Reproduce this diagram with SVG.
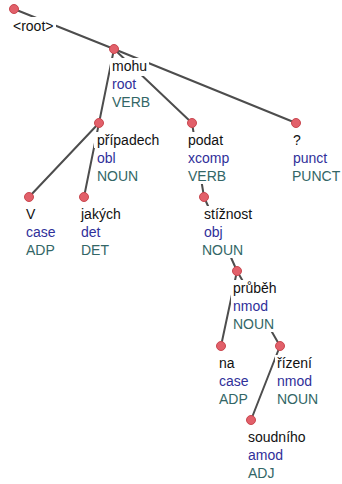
<svg xmlns="http://www.w3.org/2000/svg" width="342" height="484" viewBox="0 0 342 484">
<style>
text{font-family:"Liberation Sans",Arial,sans-serif;font-size:14px}
.f{fill:#111}
.d{fill:#30309a}
.u{fill:#336666}
.bg{fill:#fff}
.n{fill:#e2606a;stroke:#c9474f;stroke-width:1}
.e{stroke:#4d4d4d;stroke-width:2;fill:none;stroke-linecap:round}
</style>
<rect width="342" height="484" fill="#fff"/>
<g id="edges">
<line class="e" x1="14" y1="9" x2="114" y2="49"/>
<line class="e" x1="114" y1="49" x2="99" y2="123"/>
<line class="e" x1="114" y1="49" x2="192" y2="123"/>
<line class="e" x1="114" y1="49" x2="296" y2="123"/>
<line class="e" x1="99" y1="123" x2="29" y2="197"/>
<line class="e" x1="99" y1="123" x2="84" y2="197"/>
<line class="e" x1="192" y1="123" x2="204" y2="197"/>
<line class="e" x1="204" y1="197" x2="237" y2="271"/>
<line class="e" x1="237" y1="271" x2="221" y2="346"/>
<line class="e" x1="237" y1="271" x2="280" y2="346"/>
<line class="e" x1="280" y1="346" x2="251" y2="420"/>
</g>
<g id="n-root">
<rect class="bg" x="11" y="17" width="45" height="17"/>
<text class="f" x="13" y="31">&lt;root&gt;</text>
<circle class="n" cx="14" cy="9" r="4.5"/>
</g>
<g id="n-mohu">
<rect class="bg" x="110" y="58" width="39" height="18"/>
<rect class="bg" x="110" y="76" width="28" height="18"/>
<rect class="bg" x="110" y="94" width="42" height="16"/>
<text class="f" x="112" y="71">mohu</text>
<text class="d" x="112" y="89">root</text>
<text class="u" x="112" y="107">VERB</text>
<circle class="n" cx="114" cy="49" r="4.5"/>
</g>
<g id="n-pripadech">
<rect class="bg" x="94" y="132" width="69" height="16"/>
<rect class="bg" x="95" y="150" width="23" height="18"/>
<rect class="bg" x="95" y="168" width="45" height="16"/>
<text class="f" x="97" y="145">případech</text>
<text class="d" x="97" y="163">obl</text>
<text class="u" x="97" y="181">NOUN</text>
<circle class="n" cx="99" cy="123" r="4.5"/>
</g>
<g id="n-podat">
<rect class="bg" x="186" y="132" width="39" height="18"/>
<rect class="bg" x="186" y="150" width="45" height="18"/>
<rect class="bg" x="186" y="168" width="42" height="16"/>
<text class="f" x="188" y="145">podat</text>
<text class="d" x="188" y="163">xcomp</text>
<text class="u" x="188" y="181">VERB</text>
<circle class="n" cx="192" cy="123" r="4.5"/>
</g>
<g id="n-punct">
<rect class="bg" x="291" y="132" width="12" height="18"/>
<rect class="bg" x="291" y="150" width="38" height="18"/>
<rect class="bg" x="290" y="168" width="51" height="16"/>
<text class="f" x="293" y="145">?</text>
<text class="d" x="293" y="163">punct</text>
<text class="u" x="292" y="181">PUNCT</text>
<circle class="n" cx="296" cy="123" r="4.5"/>
</g>
<g id="n-v">
<rect class="bg" x="24" y="206" width="13" height="18"/>
<rect class="bg" x="24" y="224" width="34" height="18"/>
<rect class="bg" x="24" y="242" width="33" height="16"/>
<text class="f" x="26" y="219">V</text>
<text class="d" x="26" y="237">case</text>
<text class="u" x="26" y="255">ADP</text>
<circle class="n" cx="29" cy="197" r="4.5"/>
</g>
<g id="n-jakych">
<rect class="bg" x="79" y="206" width="44" height="18"/>
<rect class="bg" x="79" y="224" width="24" height="18"/>
<rect class="bg" x="79" y="242" width="32" height="16"/>
<text class="f" x="81" y="219">jakých</text>
<text class="d" x="81" y="237">det</text>
<text class="u" x="81" y="255">DET</text>
<circle class="n" cx="84" cy="197" r="4.5"/>
</g>
<g id="n-stiznost">
<rect class="bg" x="202" y="206" width="52" height="18"/>
<rect class="bg" x="202" y="224" width="24" height="18"/>
<rect class="bg" x="200" y="242" width="45" height="16"/>
<text class="f" x="204" y="219">stížnost</text>
<text class="d" x="204" y="237">obj</text>
<text class="u" x="202" y="255">NOUN</text>
<circle class="n" cx="204" cy="197" r="4.5"/>
</g>
<g id="n-prubeh">
<rect class="bg" x="231" y="280" width="48" height="18"/>
<rect class="bg" x="231" y="298" width="39" height="18"/>
<rect class="bg" x="231" y="316" width="45" height="16"/>
<text class="f" x="233" y="293">průběh</text>
<text class="d" x="233" y="311">nmod</text>
<text class="u" x="233" y="329">NOUN</text>
<circle class="n" cx="237" cy="271" r="4.5"/>
</g>
<g id="n-na">
<rect class="bg" x="217" y="355" width="20" height="18"/>
<rect class="bg" x="217" y="373" width="34" height="18"/>
<rect class="bg" x="217" y="391" width="33" height="16"/>
<text class="f" x="219" y="368">na</text>
<text class="d" x="219" y="386">case</text>
<text class="u" x="219" y="404">ADP</text>
<circle class="n" cx="221" cy="346" r="4.5"/>
</g>
<g id="n-rizeni">
<rect class="bg" x="275" y="355" width="39" height="18"/>
<rect class="bg" x="275" y="373" width="39" height="18"/>
<rect class="bg" x="275" y="391" width="45" height="16"/>
<text class="f" x="277" y="368">řízení</text>
<text class="d" x="277" y="386">nmod</text>
<text class="u" x="277" y="404">NOUN</text>
<circle class="n" cx="280" cy="346" r="4.5"/>
</g>
<g id="n-soudniho">
<rect class="bg" x="246" y="429" width="62" height="18"/>
<rect class="bg" x="246" y="447" width="39" height="18"/>
<rect class="bg" x="246" y="465" width="30" height="16"/>
<text class="f" x="248" y="442">soudního</text>
<text class="d" x="248" y="460">amod</text>
<text class="u" x="248" y="478">ADJ</text>
<circle class="n" cx="251" cy="420" r="4.5"/>
</g>
</svg>
